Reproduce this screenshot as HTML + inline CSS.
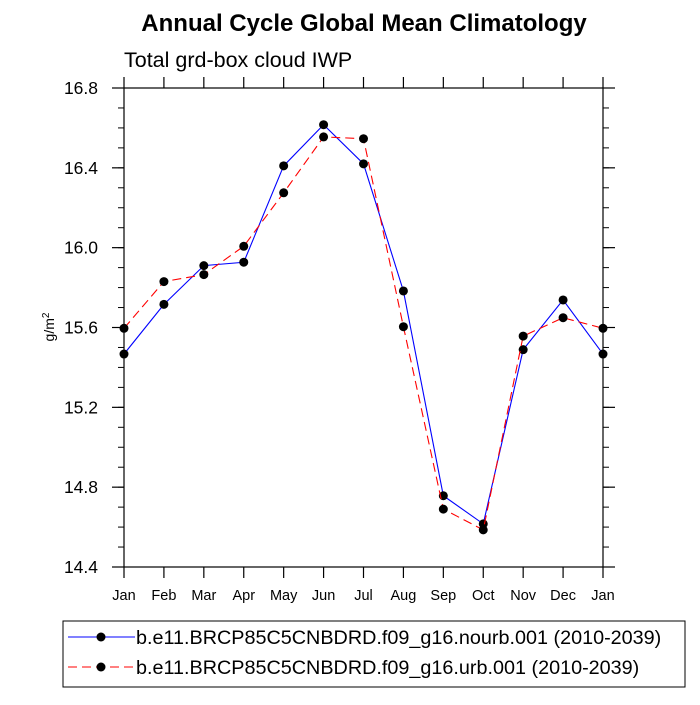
<!DOCTYPE html>
<html><head><meta charset="utf-8"><style>
body{margin:0;background:#fff;}
svg text{font-family:"Liberation Sans",sans-serif;}
</style></head><body>
<svg id="chart" width="700" height="700" xmlns="http://www.w3.org/2000/svg">
<text x="364" y="31" font-size="24" font-weight="bold" text-anchor="middle">Annual Cycle Global Mean Climatology</text>
<text x="124" y="67" font-size="21.5">Total grd-box cloud IWP</text>
<text transform="translate(54,327) rotate(-90)" font-size="14" text-anchor="middle">g/m<tspan dy="-5" font-size="10">2</tspan></text>
<g id="axes"></g>
<g id="series"></g>
<g>
<rect x="63" y="621" width="622" height="66" fill="#fff" stroke="#000" stroke-width="1"/>
<g>
<line x1="68" y1="637" x2="135" y2="637" stroke="#00f" stroke-width="1"/>
<circle cx="101" cy="637" r="4.5" fill="#000"/>
<text x="136" y="644" font-size="19.8">b.e11.BRCP85C5CNBDRD.f09_g16.nourb.001 (2010-2039)</text>
</g>
<g>
<line x1="68" y1="667" x2="135" y2="667" stroke="#f00" stroke-width="1" stroke-dasharray="9,5"/>
<circle cx="101" cy="667" r="4.5" fill="#000"/>
<text x="136" y="674" font-size="19.8">b.e11.BRCP85C5CNBDRD.f09_g16.urb.001 (2010-2039)</text>
</g>
</g>
</svg>
<script>
const months = ["Jan","Feb","Mar","Apr","May","Jun","Jul","Aug","Sep","Oct","Nov","Dec","Jan"];
const nourb = [15.467,15.716,15.91,15.927,16.41,16.616,16.42,15.783,14.757,14.616,15.489,15.738,15.467];
const urb = [15.596,15.83,15.865,16.007,16.275,16.555,16.546,15.604,14.69,14.586,15.557,15.649,15.596];
const yTicks = [14.4,14.8,15.2,15.6,16.0,16.4,16.8];
const yTickLabels = ["14.4","14.8","15.2","15.6","16.0","16.4","16.8"];
const L=124,R=603,T=88,B=567,yMin=14.4,yMax=16.8;
const NS="http://www.w3.org/2000/svg";
function xs(i){return L+(R-L)*i/(months.length-1);}
function ys(v){return B-(v-yMin)/(yMax-yMin)*(B-T);}
function mk(tag,attrs,parent){const e=document.createElementNS(NS,tag);for(const k in attrs)e.setAttribute(k,attrs[k]);parent.appendChild(e);return e;}
const ax=document.getElementById('axes');
const frame=mk('rect',{x:L,y:T,width:R-L,height:B-T,fill:'none',stroke:'#000','stroke-width':1.2},ax);


for(let v=yMin;v<=yMax+1e-6;v+=0.1){const y=ys(v);
 mk('line',{x1:L-6,y1:y,x2:L,y2:y,stroke:'#000','stroke-width':1},ax);
 mk('line',{x1:R,y1:y,x2:R+6,y2:y,stroke:'#000','stroke-width':1},ax);}
yTicks.forEach((v,i)=>{const y=ys(v);
 mk('line',{x1:L-12,y1:y,x2:L,y2:y,stroke:'#000','stroke-width':1.2},ax);
 mk('line',{x1:R,y1:y,x2:R+12,y2:y,stroke:'#000','stroke-width':1.2},ax);
 const t=mk('text',{x:L-26,y:y+6,'font-size':17.5,'text-anchor':'end'},ax);t.textContent=yTickLabels[i];
 
 });
months.forEach((m,i)=>{const x=xs(i);
 mk('line',{x1:x,y1:B,x2:x,y2:B+11,stroke:'#000','stroke-width':1.2},ax);
 mk('line',{x1:x,y1:T-11,x2:x,y2:T,stroke:'#000','stroke-width':1.2},ax);
 const t=mk('text',{x:x,y:B+33,'font-size':14.5,'text-anchor':'middle'},ax);t.textContent=m;
 
 });
const sg=document.getElementById('series');
function series(vals,color,dash,name){
 const g=mk('g',{},sg);
 
 
 const pts=vals.map((v,i)=>xs(i)+','+ys(v)).join(' ');
 const a={points:pts,fill:'none',stroke:color,'stroke-width':1.1};if(dash)a['stroke-dasharray']=dash;
 mk('polyline',a,g);
 vals.forEach((v,i)=>{const c=mk('circle',{cx:xs(i),cy:ys(v),r:4.5,fill:'#000'},g);
  
  });
}
series(nourb,'#00f',null,'series-nourb');
series(urb,'#f00','9,5','series-urb');
</script>
</body></html>
